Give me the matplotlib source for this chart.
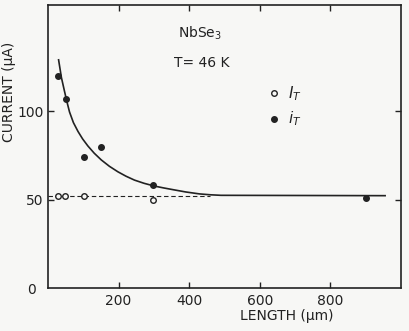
import matplotlib
matplotlib.use("Agg")
import matplotlib.pyplot as plt

# Data
length_filled = [28, 52, 102, 151, 297, 902]          # i_T (filled)
current_filled = [120, 107, 73.8, 80, 58, 51]
length_open = [27, 47, 102, 298]                      # I_T (open)
current_open = [52, 52, 52, 49.5]
curve_len = [30, 38, 47, 54, 61, 72, 85, 98, 113, 131, 151, 174, 198, 221,
             245, 272, 300, 327, 354, 390, 429, 460, 490, 955]
curve_cur = [129, 119, 111, 105, 99.5, 93.5, 88.5, 84.3, 80.3, 76.2, 72.4, 68.8,
             65.7, 63.2, 61, 59.2, 57.7, 56.6, 55.6, 54.3, 53.2, 52.7, 52.4, 52.2]
dash_len = [0, 460]
dash_cur = [52.2, 52.2]
xticks = [200, 400, 600, 800]
yticks = [50, 100]

bg = "#f7f7f5"
ink = "#222222"
fig = plt.figure(figsize=(4.09, 3.31), dpi=100, facecolor=bg)
ax = fig.add_axes([48/409, 1-288/331, 353/409, 283/331], facecolor=bg)
ax.set_xlim(0, 1000)
ax.set_ylim(0, 160)

ax.plot(curve_len, curve_cur, color=ink, lw=1.2)
ax.plot(dash_len, dash_cur, color=ink, lw=0.8, ls=(0, (4, 2.5)))
ax.plot(length_filled, current_filled, 'o', color=ink, ms=4)
ax.plot(length_open, current_open, 'o', mfc=bg, mec=ink, mew=1.0, ms=4)

ax.set_xticks(xticks)
ax.set_yticks(yticks)
ax.tick_params(direction='in', length=4, width=1, top=True, right=True,
               labelsize=10, colors=ink)
ax.tick_params(axis='x', pad=4)
ax.tick_params(axis='y', pad=3)
for s in ax.spines.values():
    s.set_linewidth(1.2)
    s.set_color(ink)

fig.text(32/409, 1-290/331, "0", fontsize=10, color=ink, ha='center', va='center')
fig.text(9/409, 1-92/331, "CURRENT (μA)", rotation=90, fontsize=10, color=ink,
         ha='center', va='center')
fig.text(287/409, 1-316/331, "LENGTH (μm)", fontsize=10, color=ink,
         ha='center', va='center')

ax.text(430, 144, r"NbSe$_3$", fontsize=10, color=ink, ha='center', va='center')
ax.text(435, 127, "T= 46 K", fontsize=10, color=ink, ha='center', va='center')

ax.plot([640], [110], 'o', mfc=bg, mec=ink, mew=1.0, ms=4)
ax.plot([640], [95.5], 'o', color=ink, ms=4)
ax.text(680, 110, r"$I_T$", fontsize=11, color=ink, va='center')
ax.text(680, 95.5, r"$i_T$", fontsize=11, color=ink, va='center')

fig.savefig("out.png", dpi=100, facecolor=bg)
